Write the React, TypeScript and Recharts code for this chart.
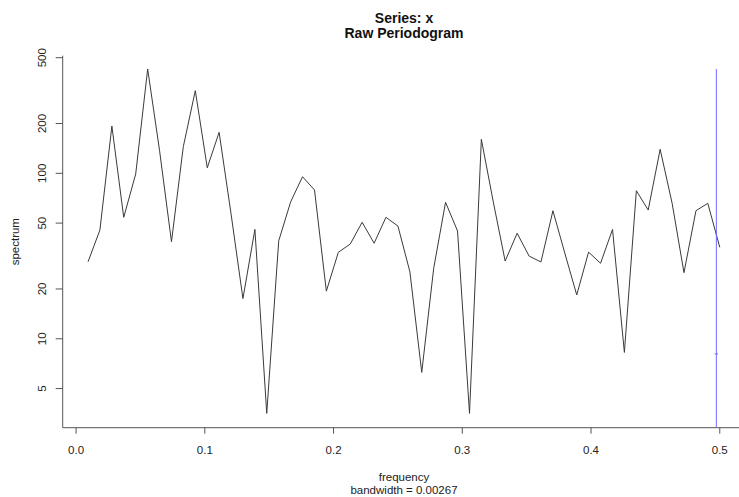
import React from "react";
import { LineChart, Line, XAxis, YAxis, Customized } from "recharts";

const frequency = [
  0.0093, 0.0185, 0.0278, 0.037, 0.0463, 0.0556, 0.0648, 0.0741, 0.0833, 0.0926,
  0.1019, 0.1111, 0.1204, 0.1296, 0.1389, 0.1481, 0.1574, 0.1667, 0.1759, 0.1852,
  0.1944, 0.2037, 0.213, 0.2222, 0.2315, 0.2407, 0.25, 0.2593, 0.2685, 0.2778,
  0.287, 0.2963, 0.3056, 0.3148, 0.3241, 0.3333, 0.3426, 0.3519, 0.3611, 0.3704,
  0.3796, 0.3889, 0.3981, 0.4074, 0.4167, 0.4259, 0.4352, 0.4444, 0.4537, 0.463,
  0.4722, 0.4815, 0.4907, 0.5,
];

const spectrum = [
  29.2, 45.4, 193, 54.2, 99, 427, 138, 38.6, 145, 316,
  108, 177, 56.7, 17.5, 45.8, 3.54, 39.1, 67.3, 95.4, 79.3,
  19.4, 33.3, 37.4, 50.6, 37.8, 54.2, 48, 25.4, 6.26, 26.7,
  66.8, 44.8, 3.54, 160.6, 67, 29.5, 43.4, 31.6, 29.1, 59.4,
  33, 18.4, 33.4, 28.6, 45.8, 8.27, 78.5, 60, 139.7, 65.9,
  25.1, 59.4, 65.9, 35.7,
];

const xTicks = [0, 0.1, 0.2, 0.3, 0.4, 0.5];
const yTicks = [5, 10, 20, 50, 100, 200, 500];

const bandwidth = 0.00267;
const ciX = 0.5 - bandwidth;
const ciTop = 427;
const ciMid = 8.1;
const ciLow = 2.93;

const data = frequency.map((f, i) => ({ freq: f, spec: spectrum[i] }));
const ciVertical = [
  { freq: ciX, spec: ciTop },
  { freq: ciX, spec: ciLow },
];
const ciHorizontal = [
  { freq: ciX - bandwidth / 2, spec: ciMid },
  { freq: ciX + bandwidth / 2, spec: ciMid },
];

const FONT = "'Liberation Sans', Arial, Helvetica, sans-serif";
const AXIS_COLOR = "#555";

const XTick = (props: any) => {
  const { x, y, payload } = props;
  return (
    <text x={x} y={y + 18} textAnchor="middle" fontFamily={FONT} fontSize={11.5} fill="#222">
      {Number(payload.value).toFixed(1)}
    </text>
  );
};

const YTick = (props: any) => {
  const { y, payload } = props;
  const cx = 42;
  return (
    <text
      x={cx}
      y={y}
      dy="0.36em"
      textAnchor="middle"
      transform={`rotate(-90 ${cx} ${y})`}
      fontFamily={FONT}
      fontSize={11.5}
      fill="#222"
    >
      {payload.value}
    </text>
  );
};

const Titles = () => (
  <g fontFamily={FONT} fill="#111">
    <text x={404} y={23} textAnchor="middle" fontWeight="bold" fontSize={14}>
      Series: x
    </text>
    <text x={404} y={38} textAnchor="middle" fontWeight="bold" fontSize={14}>
      Raw Periodogram
    </text>
    <text x={404} y={481} textAnchor="middle" fontSize={11.5} fill="#222">
      frequency
    </text>
    <text x={404} y={494} textAnchor="middle" fontSize={11.5} fill="#222">
      bandwidth = 0.00267
    </text>
    <text
      x={15}
      y={241.7}
      dy="0.36em"
      textAnchor="middle"
      transform="rotate(-90 15 241.7)"
      fontSize={11.5}
      fill="#222"
    >
      spectrum
    </text>
  </g>
);

export default function App() {
  return (
    <div
      style={{
        position: "absolute",
        left: 0,
        top: 0,
        width: 739,
        height: 497,
        overflow: "hidden",
        background: "#fff",
      }}
    >
      <LineChart
        width={760}
        height={497}
        data={data}
        margin={{ top: 55.7, right: 15, bottom: 39.3, left: 2.7 }}
      >
        <XAxis
          dataKey="freq"
          type="number"
          domain={[-0.0104, 0.5196]}
          ticks={xTicks}
          allowDataOverflow
          height={30}
          tickSize={6}
          tick={<XTick />}
          stroke={AXIS_COLOR}
          interval={0}
        />
        <XAxis
          xAxisId="top"
          orientation="top"
          dataKey="freq"
          type="number"
          domain={[-0.0104, 0.5196]}
          tick={false}
          tickLine={false}
          height={0}
          stroke={AXIS_COLOR}
        />
        <YAxis
          dataKey="spec"
          scale="log"
          type="number"
          domain={[2.9, 514]}
          ticks={yTicks}
          allowDataOverflow
          width={60}
          tickSize={7}
          tick={<YTick />}
          stroke={AXIS_COLOR}
          interval={0}
        />
        <Line
          dataKey="spec"
          type="linear"
          stroke="#3a3a3a"
          strokeWidth={1}
          dot={false}
          isAnimationActive={false}
        />
        <Line
          data={ciVertical}
          dataKey="spec"
          type="linear"
          stroke="#6b6bff"
          strokeWidth={1}
          dot={false}
          isAnimationActive={false}
        />
        <Line
          data={ciHorizontal}
          dataKey="spec"
          type="linear"
          stroke="#6b6bff"
          strokeWidth={1}
          dot={false}
          isAnimationActive={false}
        />
        <Customized component={Titles} />
      </LineChart>
    </div>
  );
}
